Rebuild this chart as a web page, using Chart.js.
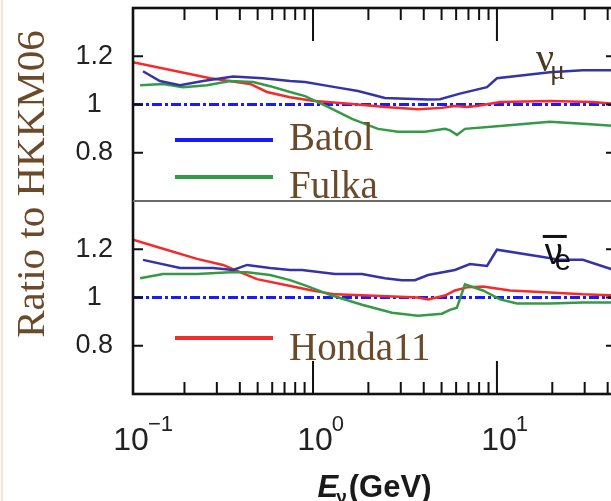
<!DOCTYPE html>
<html><head><meta charset="utf-8">
<script src="https://cdn.jsdelivr.net/npm/chart.js@4/dist/chart.umd.min.js"></script>
<style>
html,body{margin:0;padding:0;background:#fff;overflow:hidden;width:611px;height:501px}
#wrap{position:relative;width:611px;height:501px;overflow:hidden;background:#fff}
#c{position:absolute;left:0;top:0}
#edge{position:absolute;left:1px;top:0;width:2px;height:501px;background:#fbe3cf}
</style></head><body>
<div id="wrap"><canvas id="c" width="640" height="501"></canvas><div id="edge"></div></div>
<script>
// ---------- data ----------
const xMin = 0.105, xMax = 44.4;
const yMin = 0.6, yMax = 1.4;
const yTickValues = [0.8, 1, 1.2];
const xTickValues = [0.1, 1, 10];
const refRatio = 1;

// top panel (nu_mu)
const muBatolE = [0.119,0.147,0.189,0.2525,0.3675,0.535,0.75,0.905,1.317,1.756,2.46,4.22,4.90,6.29,8.83,10,19.4,29.3,45];
const muBatolR = [1.138,1.097,1.08,1.097,1.116,1.109,1.097,1.093,1.072,1.056,1.027,1.021,1.022,1.045,1.072,1.109,1.134,1.142,1.142];
const muFulkaE = [0.1148,0.153,0.1966,0.2655,0.354,0.472,0.584,0.75,0.905,1.206,1.629,2.256,2.897,4.06,5.22,5.55,6.06,6.70,10.4,19.4,29.3,45];
const muFulkaR = [1.08,1.085,1.072,1.08,1.097,1.093,1.076,1.052,1.035,0.99,0.94,0.899,0.887,0.887,0.899,0.893,0.874,0.899,0.911,0.928,0.92,0.911];
const muHondaE = [0.105,0.276,0.455,0.562,0.75,0.99,1.63,2.46,3.72,5.02,5.91,6.87,7.79,10.4,19.4,33.2,45];
const muHondaR = [1.175,1.109,1.085,1.052,1.03,1.016,1.002,0.99,0.98,0.986,0.994,0.99,0.994,1.01,1.015,1.01,1.002];

// bottom panel (anti nu_e)
const aeBatolE = [0.119,0.1893,0.286,0.3675,0.438,0.584,0.75,0.871,1.317,1.846,2.46,3.045,3.58,4.22,5.91,7.13,8.83,10,17.8,22.0,29.3,41.7,45];
const aeBatolR = [1.156,1.122,1.122,1.114,1.135,1.122,1.114,1.114,1.097,1.097,1.08,1.072,1.072,1.093,1.114,1.139,1.131,1.198,1.168,1.156,1.156,1.118,1.11];
const aeFulkaE = [0.1148,0.153,0.234,0.354,0.438,0.584,0.75,0.905,1.268,1.846,2.688,3.72,5.02,5.55,6.06,6.70,8.39,10.4,12.85,19.4,29.3,45];
const aeFulkaR = [1.08,1.097,1.097,1.105,1.105,1.093,1.072,1.05,1.008,0.97,0.937,0.924,0.933,0.949,0.958,1.055,1.029,0.992,0.975,0.975,0.979,0.979];
const aeHondaE = [0.105,0.153,0.234,0.324,0.401,0.496,0.731,0.988,1.317,1.99,3.72,4.22,5.22,5.91,6.87,8.39,11.77,19.4,29.3,45];
const aeHondaR = [1.24,1.202,1.16,1.135,1.105,1.076,1.05,1.029,1.013,1.008,1.0,0.992,1.008,1.029,1.042,1.046,1.029,1.021,1.013,1.008];

// panel labels anchored in data coordinates
const muLabelAt = {E:16.7, r:1.138};
const aeLabelAt = {E:18.2, r:1.139};

// ---------- styling ----------
const C_NAVY = '#3434a6', C_RED = '#f52a2a', C_GREEN = '#359a45', C_BLUE = '#1a1aff';
const BROWN = '#6b4a2a';
const pts = (E, R) => E.map((e, i) => ({x: e, y: R[i]}));
const line = (label, E, R, color, axis, extra) => Object.assign({
  label, data: pts(E, R), yAxisID: axis, borderColor: color, borderWidth: 2.5,
  pointRadius: 0, tension: 0, fill: false
}, extra || {});
const refLine = axis => ({
  label: 'HKKM06', data: [{x: xMin, y: refRatio}, {x: xMax, y: refRatio}], yAxisID: axis,
  borderColor: C_BLUE, borderWidth: 2.8, borderDash: [10, 3, 3, 3], pointRadius: 0, fill: false
});

const yAxis = () => ({
  type: 'linear', position: 'left', stack: 'panels', stackWeight: 1,
  min: yMin, max: yMax,
  afterBuildTicks: s => { s.ticks = yTickValues.map(v => ({value: v})); },
  afterFit: s => { s.width = 133; s.paddingTop = 0; s.paddingBottom = 0; },
  grid: {display: false, drawTicks: false},
  border: {display: false},
  ticks: {
    font: {family: '"Liberation Sans", Arial, sans-serif', size: 27},
    color: '#222', crossAlign: 'center', padding: 20,
    callback: v => String(v)
  }
});

const decor = {
  id: 'decor',
  afterDatasetsDraw(chart) {
    const {ctx, chartArea: a, scales} = chart;
    const x = scales.x, yt = scales.yTop, yb = scales.yBot;
    ctx.save();
    ctx.strokeStyle = '#111'; ctx.lineWidth = 2;
    for (let d = -2; d <= 2; d++) {
      for (let m = 1; m <= 9; m++) {
        const v = m * Math.pow(10, d);
        if (v < xMin || v > xMax) continue;
        const px = x.getPixelForValue(v);
        const len = m === 1 ? 33 : 12;
        ctx.beginPath();
        ctx.moveTo(px, a.top); ctx.lineTo(px, a.top + len);
        ctx.moveTo(px, a.bottom); ctx.lineTo(px, a.bottom - len);
        ctx.stroke();
      }
    }
    [yt, yb].forEach(s => {
      yTickValues.forEach(v => {
        const py = s.getPixelForValue(v);
        ctx.beginPath();
        ctx.moveTo(a.left, py); ctx.lineTo(a.left + 10, py);
        ctx.moveTo(a.right, py); ctx.lineTo(a.right - 10, py);
        ctx.stroke();
      });
    });
    ctx.lineWidth = 2.6; ctx.strokeStyle = '#111';
    ctx.strokeRect(a.left, a.top, a.right - a.left, a.bottom - a.top);
    ctx.lineWidth = 2; ctx.strokeStyle = '#6a6a6a';
    ctx.beginPath(); ctx.moveTo(a.left, yt.bottom); ctx.lineTo(a.right, yt.bottom); ctx.stroke();
    ctx.restore();
  },
  afterDraw(chart) {
    const {ctx, chartArea: a, scales} = chart;
    const x = scales.x, yt = scales.yTop, yb = scales.yBot;
    ctx.save();
    ctx.fillStyle = '#222';
    xTickValues.forEach(v => {
      const px = x.getPixelForValue(v);
      const exp = Math.round(Math.log10(v));
      ctx.font = '32px "Liberation Sans", Arial, sans-serif';
      const w = ctx.measureText('10').width;
      ctx.textAlign = 'left'; ctx.textBaseline = 'alphabetic';
      ctx.fillText('10', px - w / 2 + 2, 450);
      ctx.font = '22px "Liberation Sans", Arial, sans-serif';
      ctx.fillText(exp < 0 ? '\u2212' + (-exp) : String(exp), px + w / 2 + 1, 431);
    });
    const cx = (a.left + a.right) / 2;
    ctx.font = 'italic bold 31px "Liberation Sans", Arial, sans-serif';
    const wE = ctx.measureText('E').width;
    ctx.font = 'bold 19px "Liberation Sans", Arial, sans-serif';
    const wNu = ctx.measureText('\u03bd').width;
    ctx.font = 'bold 31px "Liberation Sans", Arial, sans-serif';
    const wG = ctx.measureText('(GeV)').width;
    let tx = cx - (wE + wNu + wG) / 2;
    ctx.fillStyle = '#1a1a1a';
    ctx.font = 'italic bold 31px "Liberation Sans", Arial, sans-serif';
    ctx.fillText('E', tx, 497); tx += wE;
    ctx.font = 'bold 19px "Liberation Sans", Arial, sans-serif';
    ctx.fillText('\u03bd', tx - 2, 503); tx += wNu;
    ctx.font = 'bold 31px "Liberation Sans", Arial, sans-serif';
    ctx.fillText('(GeV)', tx, 497);
    ctx.save();
    ctx.translate(33, 184);
    ctx.rotate(-Math.PI / 2);
    ctx.font = '41px "Liberation Serif", "Times New Roman", serif';
    ctx.fillStyle = BROWN; ctx.textAlign = 'center'; ctx.textBaseline = 'middle';
    ctx.fillText('Ratio to HKKM06', 0, 0);
    ctx.restore();
    const leg = [['Batol', C_BLUE, 140, 150], ['Fulka', C_GREEN, 177, 198], ['Honda11', C_RED, 338, 360]];
    leg.forEach(([t, c, ly, by]) => {
      ctx.strokeStyle = c; ctx.lineWidth = 4;
      ctx.beginPath(); ctx.moveTo(175, ly); ctx.lineTo(273, ly); ctx.stroke();
      ctx.font = '39px "Liberation Serif", "Times New Roman", serif';
      ctx.fillStyle = BROWN; ctx.textAlign = 'left'; ctx.textBaseline = 'alphabetic';
      ctx.fillText(t, 289, by);
    });
    let px = x.getPixelForValue(muLabelAt.E), py = yt.getPixelForValue(muLabelAt.r);
    ctx.fillStyle = '#4a3820';
    ctx.font = '40px "Liberation Serif", serif';
    ctx.fillText('\u03bd', px - 2, py);
    const wn = ctx.measureText('\u03bd').width;
    ctx.font = '28px "Liberation Serif", serif';
    ctx.fillText('\u03bc', px + wn - 6, py + 8);
    px = x.getPixelForValue(aeLabelAt.E); py = yb.getPixelForValue(aeLabelAt.r);
    ctx.fillStyle = '#111';
    ctx.font = '36px "Liberation Sans", Arial, sans-serif';
    ctx.fillText('\u03bd', px, py);
    const wv = ctx.measureText('\u03bd').width;
    ctx.fillRect(px - 2, py - 29, wv + 6, 3);
    ctx.font = '29px "Liberation Sans", Arial, sans-serif';
    ctx.fillText('e', px + wv - 8, py + 6);
    ctx.restore();
  }
};

new Chart(document.getElementById('c'), {
  type: 'line',
  data: {
    datasets: [
      line('Batol', muBatolE, muBatolR, C_NAVY, 'yTop'),
      line('Fulka', muFulkaE, muFulkaR, C_GREEN, 'yTop'),
      line('Honda11', muHondaE, muHondaR, C_RED, 'yTop'),
      refLine('yTop'),
      line('Batol', aeBatolE, aeBatolR, C_NAVY, 'yBot'),
      line('Fulka', aeFulkaE, aeFulkaR, C_GREEN, 'yBot'),
      line('Honda11', aeHondaE, aeHondaR, C_RED, 'yBot'),
      refLine('yBot')
    ]
  },
  options: {
    responsive: false, animation: false, devicePixelRatio: 1,
    layout: {padding: {top: 8, right: 24, left: 0, bottom: 0}},
    plugins: {legend: {display: false}, tooltip: {enabled: false}},
    scales: {
      x: {
        type: 'logarithmic', min: xMin, max: xMax,
        grid: {display: false, drawTicks: false}, border: {display: false},
        ticks: {display: false},
        afterFit: s => { s.height = 107; s.paddingLeft = 0; s.paddingRight = 0; }
      },
      yBot: yAxis(),
      yTop: yAxis()
    }
  },
  plugins: [decor]
});
</script>
</body></html>
